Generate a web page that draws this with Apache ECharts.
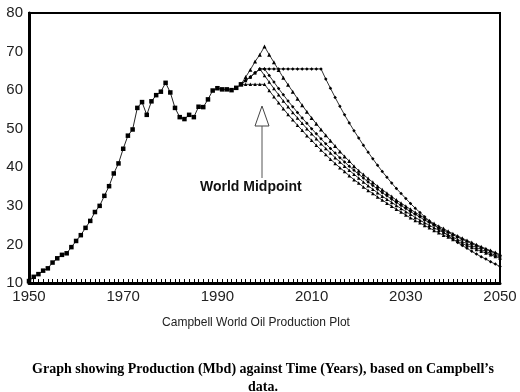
<!DOCTYPE html>
<html>
<head>
<meta charset="utf-8">
<script src="https://cdn.jsdelivr.net/npm/echarts@6/dist/echarts.min.js"></script>
<style>
html,body{margin:0;padding:0;background:#fff;}
#chart{width:520px;height:392px;}
</style>
</head>
<body>
<div id="chart"></div>
<script>
// ---- data (Mbd) ----
const histStart = 1950;
const histValues = [10.5, 11.6, 12.3, 13.2, 13.8, 15.3, 16.4, 17.3, 17.7, 19.3,
  20.9, 22.4, 24.3, 26.1, 28.4, 30.0, 32.6, 35.1, 38.4, 41.0,
  44.8, 48.2, 49.8, 55.4, 56.9, 53.6, 57.1, 58.7, 59.6, 61.9,
  59.4, 55.4, 53.0, 52.5, 53.6, 53.0, 55.7, 55.6, 57.6, 59.9,
  60.5, 60.2, 60.2, 60.0, 60.6, 61.5];

const scenStart = 1995;
// high peak scenario (peak 2000)
const scenAValues = [61.5, 63.4, 65.3, 67.4, 69.2, 71.3, 69.2, 67.2, 65.2, 63.2, 61.4,
  59.6, 57.8, 56.1, 54.4, 52.8, 51.3, 49.8, 48.3, 46.9, 45.5,
  44.1, 42.8, 41.6, 40.3, 39.1, 38.1, 37.1, 36.1, 35.1, 34.2,
  33.3, 32.4, 31.5, 30.7, 29.9, 29.1, 28.3, 27.6, 26.8, 26.1,
  25.4, 24.7, 24.1, 23.4, 22.8, 22.2, 21.6, 21.0, 20.5, 19.9,
  19.4, 18.9, 18.4, 17.9, 17.4];
// plateau scenario to 2012
const scenBValues = [61.5, 62.5, 63.4, 64.5, 65.5,
  65.5, 65.5, 65.5, 65.5, 65.5, 65.5, 65.5, 65.5, 65.5, 65.5, 65.5, 65.5, 65.5,
  62.9, 60.5, 58.1, 55.8, 53.6, 51.5, 49.5, 47.6, 45.7, 43.9,
  42.2, 40.5, 38.9, 37.4, 35.9, 34.5, 33.2, 31.9, 30.6, 29.4,
  28.3, 27.2, 26.1, 25.1, 24.1, 23.2, 22.2, 21.4, 20.5, 19.7,
  19.0, 18.2, 17.5, 16.8, 16.2, 15.5, 14.9, 14.3];
// peak 1999
const scenDValues = [61.5, 62.5, 63.4, 64.5, 65.5,
  63.8, 62.1, 60.4, 58.8, 57.2, 55.7, 54.2, 52.8, 51.4, 50.0,
  48.7, 47.4, 46.1, 44.9, 43.7, 42.5, 41.4, 40.3, 39.2, 38.2,
  37.2, 36.2, 35.2, 34.3, 33.4, 32.5, 31.7, 30.9, 30.1, 29.3,
  28.5, 27.8, 27.0, 26.3, 25.6, 25.0, 24.3, 23.7, 23.1, 22.5,
  21.9, 21.3, 20.7, 20.2, 19.7, 19.2, 18.7, 18.2, 17.7, 17.2, 16.8];
// peak 2000 at 65.5
const scenEValues = [61.5, 62.5, 63.4, 64.5, 65.5, 65.5,
  63.8, 62.1, 60.4, 58.8, 57.2, 55.7, 54.2, 52.8, 51.4,
  50.0, 48.7, 47.4, 46.1, 44.9, 43.7, 42.5, 41.4, 40.3, 39.2,
  38.2, 37.2, 36.2, 35.3, 34.3, 33.4, 32.6, 31.7, 30.9, 30.1,
  29.3, 28.5, 27.8, 27.1, 26.3, 25.7, 25.0, 24.3, 23.7, 23.1,
  22.5, 21.9, 21.3, 20.8, 20.2, 19.7, 19.2, 18.7, 18.2, 17.7, 17.2];
// flat 61.5 to 2000
const scenCValues = [61.5, 61.5, 61.5, 61.5, 61.5, 61.5,
  59.9, 58.3, 56.7, 55.2, 53.7, 52.3, 50.9, 49.6, 48.2,
  47.0, 45.7, 44.5, 43.3, 42.1, 41.0, 39.9, 38.9, 37.8, 36.8,
  35.9, 34.9, 34.0, 33.2, 32.3, 31.5, 30.7, 29.9, 29.1, 28.4,
  27.6, 26.9, 26.2, 25.6, 24.9, 24.3, 23.6, 23.0, 22.4, 21.9,
  21.3, 20.8, 20.2, 19.7, 19.2, 18.7, 18.2, 17.8, 17.3, 16.9, 16.4];

const xTicks = {min: 1950, max: 2050, step: 20};
const yTicks = {min: 10, max: 80, step: 10};

function pairs(start, vals) { return vals.map((v, i) => [start + i, v]); }

const chart = echarts.init(document.getElementById('chart'), null, {renderer: 'canvas'});

function lineSeries(name, data, symbol, size, color) {
  return {
    name, type: 'line', data, symbol, symbolSize: size,
    lineStyle: {color: color, width: 1},
    itemStyle: {color: '#000'},
    showSymbol: true, animation: false, z: 3
  };
}

chart.setOption({
  backgroundColor: '#fff',
  animation: false,
  grid: {left: 29, right: 20, top: 13, bottom: 109, show: true, borderColor: '#000', borderWidth: 2},
  xAxis: {
    type: 'value', min: xTicks.min, max: xTicks.max, interval: xTicks.step,
    axisLine: {show: true, lineStyle: {color: '#000', width: 3}},
    axisTick: {show: true, inside: true, length: 4, lineStyle: {color: '#000', width: 1}},
    minorTick: {show: true, splitNumber: 20, length: 4, lineStyle: {color: '#000', width: 1}},
    splitLine: {show: false},
    axisLabel: {color: '#222', fontSize: 15, fontFamily: 'Liberation Sans, Arial, sans-serif', margin: 6,
                formatter: v => String(v)}
  },
  yAxis: {
    type: 'value', min: yTicks.min, max: yTicks.max, interval: yTicks.step,
    axisLine: {show: true, lineStyle: {color: '#000', width: 3}},
    axisTick: {show: false},
    splitLine: {show: false},
    axisLabel: {color: '#222', fontSize: 15, fontFamily: 'Liberation Sans, Arial, sans-serif', margin: 6,
                formatter: v => String(v)}
  },
  series: [
    lineSeries('History', pairs(histStart, histValues), 'rect', 4.5, '#222'),
    lineSeries('A', pairs(scenStart, scenAValues), 'triangle', 4, '#333'),
    lineSeries('B', pairs(scenStart, scenBValues), 'diamond', 3.5, '#333'),
    lineSeries('D', pairs(scenStart, scenDValues), 'triangle', 3.5, '#333'),
    lineSeries('E', pairs(scenStart, scenEValues), 'diamond', 3.5, '#333'),
    lineSeries('C', pairs(scenStart, scenCValues), 'triangle', 3.5, '#333')
  ],
  graphic: [
    {type: 'polygon', shape: {points: [[262, 106], [255, 126], [269, 126]]},
     style: {fill: '#fff', stroke: '#444', lineWidth: 1}, z: 10},
    {type: 'line', shape: {x1: 262, y1: 126, x2: 262, y2: 178},
     style: {stroke: '#555', lineWidth: 1}, z: 10},
    {type: 'text', left: 200, top: 180,
     style: {text: 'World Midpoint', font: 'bold 14px "Liberation Sans", Arial, sans-serif', fill: '#111'}, z: 10},
    {type: 'text', x: 256, y: 323,
     style: {text: 'Campbell World Oil Production Plot', font: '12px "Liberation Sans", Arial, sans-serif',
             fill: '#222', textAlign: 'center', textVerticalAlign: 'middle'}},
    {type: 'text', x: 263, y: 369,
     style: {text: 'Graph showing Production (Mbd) against Time (Years), based on Campbell\u2019s',
             font: 'bold 14px "Liberation Serif", "Times New Roman", serif',
             fill: '#000', textAlign: 'center', textVerticalAlign: 'middle'}},
    {type: 'text', x: 263, y: 387,
     style: {text: 'data.', font: 'bold 14px "Liberation Serif", "Times New Roman", serif',
             fill: '#000', textAlign: 'center', textVerticalAlign: 'middle'}}
  ]
});
</script>
</body>
</html>
